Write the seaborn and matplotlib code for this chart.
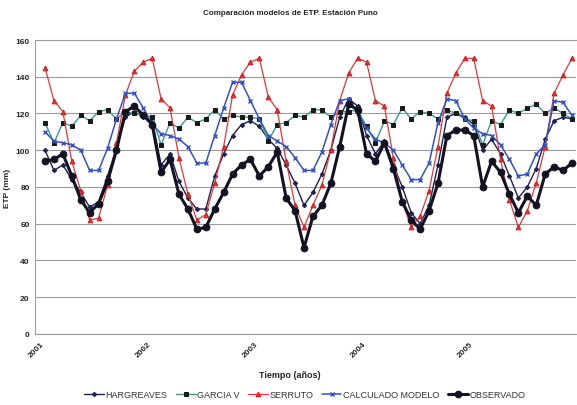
import numpy as np
import pandas as pd
import matplotlib
matplotlib.use('Agg')
import matplotlib.pyplot as plt
import seaborn as sns

# ================= DATOS (ETP mensual, mm) =================
MESES = np.arange(60)  # ene-2001 ... dic-2005
ANIOS = ['2001', '2002', '2003', '2004', '2005']

HARGREAVES = [100, 89, 92, 84, 77, 69, 72, 86, 101, 118, 121, 118,
              116, 92, 98, 83, 74, 68, 68, 86, 98, 108, 114, 116,
              113, 106, 101, 92, 82, 70, 77, 87, 100, 118, 128, 124,
              108, 98, 105, 92, 80, 66, 60, 70, 92, 118, 120, 118,
              114, 100, 106, 98, 86, 74, 80, 90, 106, 116, 118, 117]

GARCIA_V = [115, 104, 115, 113, 119, 116, 121, 122, 117, 121, 120, 119,
            118, 103, 115, 112, 118, 115, 117, 122, 117, 119, 118, 118,
            117, 105, 114, 115, 119, 118, 122, 122, 118, 121, 121, 122,
            113, 104, 116, 114, 123, 117, 121, 120, 117, 122, 120, 117,
            116, 103, 116, 114, 122, 120, 123, 125, 120, 123, 120, 117]

SERRUTO = [145, 127, 121, 94, 78, 62, 63, 81, 104, 130, 143, 148,
           150, 128, 123, 96, 76, 62, 65, 82, 102, 130, 141, 148,
           150, 129, 122, 94, 70, 58, 70, 81, 100, 127, 142, 150,
           148, 127, 124, 96, 72, 58, 64, 78, 102, 131, 142, 150,
           150, 127, 124, 95, 73, 58, 67, 82, 102, 131, 141, 150]

CALCULADO = [110, 105, 104, 103, 100, 89, 89, 101, 117, 131, 131, 123,
             114, 109, 108, 106, 102, 93, 93, 108, 123, 137, 137, 127,
             117, 108, 105, 102, 96, 89, 89, 99, 114, 127, 128, 120,
             112, 106, 104, 100, 92, 84, 84, 93, 115, 128, 127, 117,
             112, 109, 108, 103, 95, 86, 87, 98, 103, 127, 126, 119]

OBSERVADO = [94, 95, 98, 86, 73, 66, 71, 83, 100, 121, 124, 119,
             114, 88, 95, 76, 68, 57, 58, 68, 77, 87, 92, 95,
             86, 91, 99, 74, 67, 47, 64, 70, 82, 102, 125, 122,
             98, 94, 104, 90, 72, 62, 57, 67, 82, 108, 111, 111,
             108, 80, 94, 88, 76, 66, 75, 70, 87, 91, 89, 93]

# ================= ESTILO =================
sns.set_style('white')
plt.rcParams['font.family'] = ['Liberation Sans', 'DejaVu Sans']

fig, ax = plt.subplots(figsize=(5.77, 4.06), dpi=100)
fig.subplots_adjust(left=0.061, right=0.999, top=0.899, bottom=0.175)

series = [
    ('HARGREAVES', HARGREAVES, dict(color='#1d2150', marker='D', markersize=2.2,
                                    markeredgecolor='#1d2150', linewidth=1.0)),
    ('GARCIA V', GARCIA_V, dict(color='#3a9c8c', marker='s', markersize=3.3,
                                markerfacecolor='#1a1a1a', markeredgecolor='#1a1a1a',
                                linewidth=1.0)),
    ('SERRUTO', SERRUTO, dict(color='#e0383a', marker='^', markersize=3.4,
                              markeredgecolor='#c82020', linewidth=0.9)),
    ('CALCULADO MODELO', CALCULADO, dict(color='#3552c4', marker='x', markersize=3.3,
                                         markeredgecolor='#3552c4', markeredgewidth=1.0,
                                         linewidth=1.1)),
    ('OBSERVADO', OBSERVADO, dict(color='#121222', marker='o', markersize=4.8,
                                  markeredgecolor='#121222', linewidth=2.2)),
]

for nombre, valores, estilo in series:
    sns.lineplot(x=MESES, y=valores, ax=ax, label=nombre, **estilo)

# ejes
ax.set_ylim(0, 160)
ax.set_xlim(-1.1, 59.15)
ax.set_yticks(range(0, 161, 20))
ax.set_yticklabels([str(v) for v in range(0, 161, 20)], fontsize=6, fontweight='bold')
ax.yaxis.grid(True, color='#9c9c9c', linewidth=0.8)
ax.set_axisbelow(True)

ax.set_xticks([-0.5, 11.5, 23.5, 35.5, 47.5])
ax.set_xticklabels(ANIOS, rotation=45, ha='right', rotation_mode='anchor',
                   fontsize=6, fontweight='bold')
ax.set_xticks(np.arange(-0.5, 59.6, 1), minor=True)
ax.tick_params(axis='x', which='both', length=2.5, width=0.6, direction='inout',
               color='#888888', pad=3)
ax.tick_params(axis='y', length=0, pad=4)

for lado in ['left', 'bottom', 'top']:
    ax.spines[lado].set_color('#9c9c9c')
    ax.spines[lado].set_linewidth(0.8)
ax.spines['right'].set_visible(False)

ax.set_ylabel('ETP (mm)', fontsize=6, fontweight='bold', labelpad=3)
ax.set_xlabel('')

fig.text(0.503, 0.966, 'Comparación modelos de ETP. Estación Puno',
         ha='center', va='center', fontsize=5.8, fontweight='bold')
fig.text(0.503, 0.076, 'Tiempo (años)', ha='center', va='center',
         fontsize=6.5, fontweight='bold')

handles, labels = ax.get_legend_handles_labels()
ax.get_legend().remove()
fig.legend(handles, labels, loc='center', bbox_to_anchor=(0.528, 0.025), ncol=5,
           frameon=False, fontsize=6.5, handlelength=2.2, handletextpad=0.2,
           columnspacing=0.9, labelcolor='#333333')

fig.savefig('out.png', dpi=100)
